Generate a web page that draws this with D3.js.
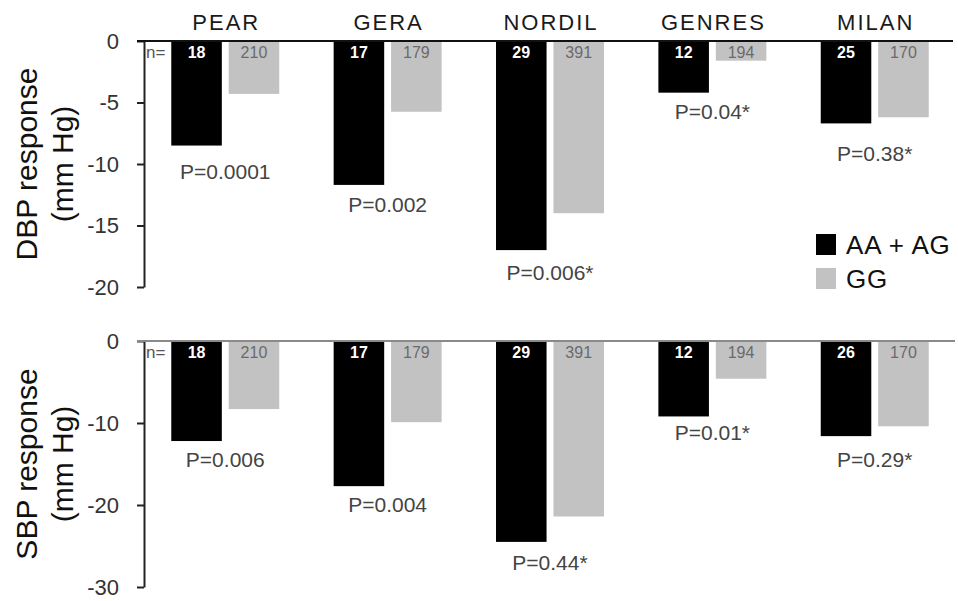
<!DOCTYPE html>
<html><head><meta charset="utf-8">
<script src="https://cdn.jsdelivr.net/npm/d3@7"></script>
<style>
body{margin:0;background:#fff;}
text{font-family:"Liberation Sans",Arial,sans-serif;}
</style></head>
<body><svg id="chart" width="958" height="601"></svg>
<script>
const categories = ["PEAR","GERA","NORDIL","GENRES","MILAN"];
const seriesNames = ["AA + AG","GG"];
const dbpAA = [-8.5,-11.7,-17.0,-4.2,-6.7];
const dbpGG = [-4.3,-5.75,-14.0,-1.6,-6.2];
const sbpAA = [-12.2,-17.7,-24.5,-9.2,-11.6];
const sbpGG = [-8.3,-9.9,-21.4,-4.6,-10.4];
const dbpNAA = [18,17,29,12,25];
const dbpNGG = [210,179,391,194,170];
const sbpNAA = [18,17,29,12,26];
const sbpNGG = [210,179,391,194,170];
const dbpP = ["P=0.0001","P=0.002","P=0.006*","P=0.04*","P=0.38*"];
const sbpP = ["P=0.006","P=0.004","P=0.44*","P=0.01*","P=0.29*"];
const dbpPAt = [-10.6,-13.3,-18.8,-5.75,-9.15];
const sbpPAt = [-14.5,-19.95,-27.0,-11.2,-14.5];
const dbpTicks = [0,-5,-10,-15,-20];
const sbpTicks = [0,-10,-20,-30];

const colors = {"AA + AG":"#000000","GG":"#c2c2c2"};
const nColors = {"AA + AG":"#ffffff","GG":"#6a6a6a"};

const svg = d3.select("#chart");
const axisX = 144;
const x0 = d3.scaleBand().domain(categories).range([axisX,956]).paddingInner(0.335).paddingOuter(0.168);
const x1 = d3.scaleBand().domain(seriesNames).range([0,x0.bandwidth()]).paddingInner(0.12);

// category labels
svg.selectAll("text.cat").data(categories).enter().append("text")
  .attr("class","cat")
  .attr("x",d=>x0(d)+x0.bandwidth()/2+1)
  .attr("y",30)
  .attr("text-anchor","middle")
  .style("font-size","22px").style("letter-spacing","2px").attr("fill","#1a1a1a")
  .text(d=>d);

function panel(cfg){
  const y = d3.scaleLinear().domain(cfg.domain).range(cfg.range);
  const g = svg.append("g");
  const rows = categories.map((c,i)=>({c,i,vals:[
    {s:"AA + AG",v:cfg.aa[i],n:cfg.nAA[i]},
    {s:"GG",v:cfg.gg[i],n:cfg.nGG[i]}]}));
  const grp = g.selectAll("g.grp").data(rows).enter().append("g")
    .attr("transform",d=>`translate(${x0(d.c)},0)`);
  grp.selectAll("rect").data(d=>d.vals).enter().append("rect")
    .attr("x",d=>x1(d.s)).attr("width",x1.bandwidth())
    .attr("y",y(0)).attr("height",d=>y(d.v)-y(0))
    .attr("fill",d=>colors[d.s]);
  grp.selectAll("text.n").data(d=>d.vals).enter().append("text")
    .attr("class","n")
    .attr("x",d=>x1(d.s)+x1.bandwidth()/2)
    .attr("y",y(0)+17)
    .attr("text-anchor","middle")
    .style("font-size","16px")
    .style("font-weight",d=>d.s==="AA + AG"?"bold":"normal")
    .attr("fill",d=>nColors[d.s])
    .text(d=>d.n);
  g.selectAll("text.p").data(rows).enter().append("text")
    .attr("x",d=>x0(d.c)+x0.bandwidth()/2)
    .attr("y",d=>y(cfg.pAt[d.i]))
    .attr("dy","0.36em")
    .attr("text-anchor","middle")
    .style("font-size","21px").attr("fill","#444")
    .text(d=>cfg.p[d.i]);
  g.append("text").attr("x",axisX+2).attr("y",y(0)+17)
    .style("font-size","17px").attr("fill","#555").text("n=");
  const ax = g.append("g").attr("transform",`translate(${axisX},0)`)
    .call(d3.axisLeft(y).tickValues(cfg.ticks).tickSize(7).tickSizeOuter(0).tickPadding(18).tickFormat(d=>String(d)));
  ax.select(".domain").attr("stroke","#222").attr("stroke-width",2);
  ax.selectAll(".tick line").attr("stroke","#222").attr("stroke-width",2);
  ax.selectAll(".tick text").style("font-size","22px").attr("fill","#333")
    .style("font-family","'Liberation Sans',Arial,sans-serif");
  g.append("line").attr("x1",137).attr("x2",cfg.zeroEnd)
    .attr("y1",y(0)).attr("y2",y(0))
    .attr("stroke",cfg.zeroColor).attr("stroke-width",2);
  const cy = (cfg.range[0]+cfg.range[1])/2;
  g.append("text").attr("transform",`translate(37,${cy}) rotate(-90)`)
    .attr("text-anchor","middle").style("font-size","30px").attr("fill","#111")
    .text(cfg.title1);
  g.append("text").attr("transform",`translate(73,${cy}) rotate(-90)`)
    .attr("text-anchor","middle").style("font-size","30px").attr("fill","#111")
    .text("(mm Hg)");
}

panel({domain:[-20,0],range:[287,41],aa:dbpAA,gg:dbpGG,nAA:dbpNAA,nGG:dbpNGG,
  p:dbpP,pAt:dbpPAt,ticks:dbpTicks,zeroColor:"#111",zeroEnd:953,title1:"DBP response"});
panel({domain:[-30,0],range:[587,341],aa:sbpAA,gg:sbpGG,nAA:sbpNAA,nGG:sbpNGG,
  p:sbpP,pAt:sbpPAt,ticks:sbpTicks,zeroColor:"#8a8a8a",zeroEnd:955,title1:"SBP response"});

const leg = svg.append("g").attr("transform","translate(816,234)");
seriesNames.forEach((s,i)=>{
  leg.append("rect").attr("x",0).attr("y",i*34).attr("width",20).attr("height",21).attr("fill",colors[s]);
  leg.append("text").attr("x",30).attr("y",i*34+20).style("font-size","26px")
    .style("letter-spacing","0.8px").attr("fill","#111").text(s);
});
</script></body></html>
